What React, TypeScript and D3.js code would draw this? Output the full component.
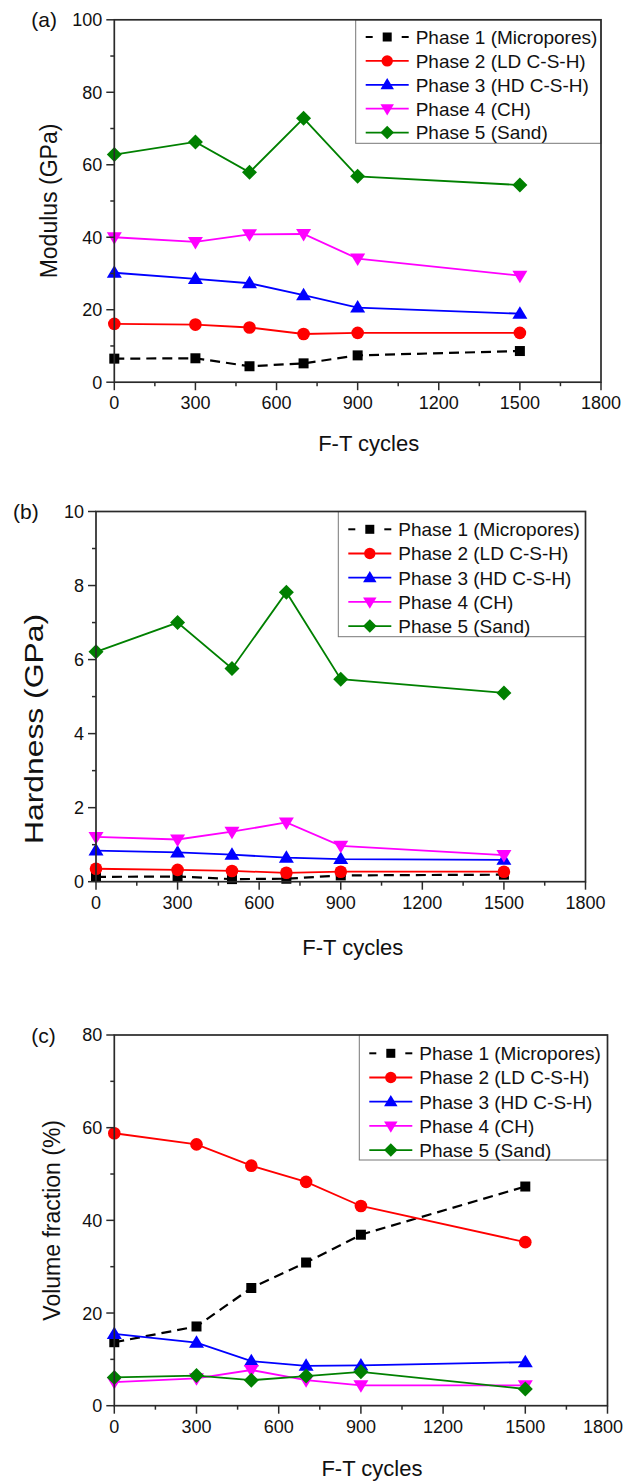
import React from "react";
import * as d3 from "d3";

const cycles = [0, 300, 500, 700, 900, 1500];
const seriesNames = [
  "Phase 1 (Micropores)",
  "Phase 2 (LD C-S-H)",
  "Phase 3 (HD C-S-H)",
  "Phase 4 (CH)",
  "Phase 5 (Sand)",
];
const seriesColors = ["#000000", "#ff0000", "#0000ff", "#ff00ff", "#008000"];
const seriesShapes = ["square", "circle", "triUp", "triDown", "diamond"];

const modulusP1 = [6.5, 6.6, 4.4, 5.2, 7.4, 8.6];
const modulusP2 = [16.1, 15.9, 15.1, 13.3, 13.6, 13.6];
const modulusP3 = [30.2, 28.5, 27.3, 24.0, 20.6, 18.9];
const modulusP4 = [40.0, 38.7, 40.8, 40.9, 34.1, 29.4];
const modulusP5 = [62.8, 66.3, 57.9, 72.8, 56.8, 54.4];

const hardnessP1 = [0.13, 0.14, 0.07, 0.08, 0.17, 0.19];
const hardnessP2 = [0.35, 0.32, 0.29, 0.24, 0.27, 0.27];
const hardnessP3 = [0.84, 0.79, 0.73, 0.65, 0.61, 0.59];
const hardnessP4 = [1.21, 1.14, 1.35, 1.6, 0.97, 0.72];
const hardnessP5 = [6.21, 7.0, 5.76, 7.82, 5.47, 5.1];

const volumeP1 = [13.7, 17.1, 25.4, 30.9, 36.9, 47.3];
const volumeP2 = [58.8, 56.4, 51.8, 48.3, 43.1, 35.3];
const volumeP3 = [15.5, 13.6, 9.6, 8.6, 8.7, 9.4];
const volumeP4 = [5.1, 5.9, 7.7, 5.5, 4.4, 4.4];
const volumeP5 = [6.1, 6.5, 5.5, 6.4, 7.3, 3.6];

const xTicks = [0, 300, 600, 900, 1200, 1500, 1800];

const FONT = "'Liberation Sans', Arial, Helvetica, sans-serif";

function Marker({ shape, x, y, color, k = 1 }: any) {
  if (shape === "square") {
    const s = 10 * k;
    return <rect x={x - s / 2} y={y - s / 2} width={s} height={s} fill={color} />;
  }
  if (shape === "circle") {
    return <circle cx={x} cy={y} r={6.3 * k} fill={color} />;
  }
  const a = 7.5 * k;
  const b = 5 * k;
  const path = d3.path();
  if (shape === "triUp") {
    path.moveTo(x, y - a);
    path.lineTo(x + a, y + b);
    path.lineTo(x - a, y + b);
    path.closePath();
  } else if (shape === "triDown") {
    path.moveTo(x, y + a);
    path.lineTo(x + a, y - b);
    path.lineTo(x - a, y - b);
    path.closePath();
  } else {
    const d = 7.5 * k;
    path.moveTo(x, y - d);
    path.lineTo(x + d, y);
    path.lineTo(x, y + d);
    path.lineTo(x - d, y);
    path.closePath();
  }
  return <path d={path.toString()} fill={color} />;
}

function Panel({
  letter,
  left,
  right,
  top,
  bottom,
  yMax,
  yMajor,
  yTitle,
  yTitleX,
  yTitleSize,
  yTitleLen,
  yTitleY,
  xTitleY,
  xTitleDx,
  series,
  legendLeft,
  legendBottom,
  legendRow0,
  legendRowStep,
}: any) {
  const x = d3.scaleLinear().domain([0, 1800]).range([left, right]);
  const y = d3.scaleLinear().domain([0, yMax]).range([bottom, top]);
  const line = d3
    .line<number>()
    .x((_, i) => x(cycles[i]))
    .y((d) => y(d));
  const yMajorTicks = d3.range(0, yMax + 1e-9, yMajor);
  const yMinorTicks = d3.range(yMajor / 2, yMax, yMajor);
  const xMinorTicks = d3.range(150, 1800, 300);
  const axisColor = "#2a2a2a";
  const cy = yTitleY !== undefined ? yTitleY : (top + bottom) / 2;
  return (
    <g>
      {series.map((vals: number[], si: number) => (
        <g key={si}>
          <path
            d={line(vals) as string}
            fill="none"
            stroke={seriesColors[si]}
            strokeWidth={si === 0 ? 2.2 : 1.8}
            strokeDasharray={si === 0 ? "10,6" : undefined}
          />
          {vals.map((v, i) => (
            <Marker key={i} shape={seriesShapes[si]} x={x(cycles[i])} y={y(v)} color={seriesColors[si]} />
          ))}
        </g>
      ))}
      <rect
        x={legendLeft}
        y={top}
        width={right - legendLeft}
        height={legendBottom - top}
        fill="white"
        stroke="#777"
        strokeWidth={1}
      />
      {seriesNames.map((name, si) => {
        const ry = legendRow0 + si * legendRowStep;
        return (
          <g key={si}>
            {si === 0 ? (
              <g>
                <line x1={legendLeft + 10} x2={legendLeft + 17} y1={ry} y2={ry} stroke="#000" strokeWidth={2} />
                <line x1={legendLeft + 46} x2={legendLeft + 53} y1={ry} y2={ry} stroke="#000" strokeWidth={2} />
              </g>
            ) : (
              <line
                x1={legendLeft + 10}
                x2={legendLeft + 53}
                y1={ry}
                y2={ry}
                stroke={seriesColors[si]}
                strokeWidth={1.8}
              />
            )}
            <Marker shape={seriesShapes[si]} x={legendLeft + 31.5} y={ry} color={seriesColors[si]} k={0.9} />
            <text x={legendLeft + 60} y={ry} dy="0.36em" fontSize={19} fontFamily={FONT} fill="#111">
              {name}
            </text>
          </g>
        );
      })}
      <rect x={left} y={top} width={right - left} height={bottom - top} fill="none" stroke={axisColor} strokeWidth={1.7} />
      {yMajorTicks.map((t: number) => (
        <g key={"ym" + t}>
          <line x1={left - 8} x2={left} y1={y(t)} y2={y(t)} stroke={axisColor} strokeWidth={1.5} />
          <text x={left - 12} y={y(t)} dy="0.36em" textAnchor="end" fontSize={18} fontFamily={FONT} fill="#111">
            {t}
          </text>
        </g>
      ))}
      {yMinorTicks.map((t: number) => (
        <line key={"yn" + t} x1={left - 4} x2={left} y1={y(t)} y2={y(t)} stroke={axisColor} strokeWidth={1.5} />
      ))}
      {xTicks.map((t) => (
        <g key={"xm" + t}>
          <line x1={x(t)} x2={x(t)} y1={bottom} y2={bottom + 8} stroke={axisColor} strokeWidth={1.5} />
          <text
            x={Math.min(x(t), 603)}
            y={bottom + 27}
            textAnchor="middle"
            fontSize={18}
            fontFamily={FONT}
            fill="#111"
          >
            {t}
          </text>
        </g>
      ))}
      {xMinorTicks.map((t: number) => (
        <line key={"xn" + t} x1={x(t)} x2={x(t)} y1={bottom} y2={bottom + 4} stroke={axisColor} strokeWidth={1.5} />
      ))}
      <text
        x={(left + right) / 2 + xTitleDx}
        y={xTitleY}
        textAnchor="middle"
        fontSize={22}
        fontFamily={FONT}
        fill="#111"
      >
        F-T cycles
      </text>
      <text
        transform={`translate(${yTitleX},${cy}) rotate(-90)`}
        textAnchor="middle"
        dy="0.36em"
        fontSize={yTitleSize}
        fontFamily={FONT}
        fill="#111"
        textLength={yTitleLen}
        lengthAdjust={yTitleLen ? "spacingAndGlyphs" : undefined}
      >
        {yTitle}
      </text>
      <text x={left - 83} y={top} dy="0.36em" fontSize={21} fontFamily={FONT} fill="#111">
        {`(${letter})`}
      </text>
    </g>
  );
}

export default function App() {
  return (
    <div style={{ position: "absolute", left: 0, top: 0 }}>
      <svg width={623} height={1482} style={{ display: "block", background: "white" }}>
        <Panel
          letter="a"
          left={114.3}
          right={601}
          top={19.8}
          bottom={382.2}
          yMax={100}
          yMajor={20}
          yTitle="Modulus (GPa)"
          yTitleX={49}
          yTitleSize={23}
          xTitleY={451}
          xTitleDx={11}
          series={[modulusP1, modulusP2, modulusP3, modulusP4, modulusP5]}
          legendLeft={355.7}
          legendBottom={143.3}
          legendRow0={37}
          legendRowStep={23.9}
        />
        <Panel
          letter="b"
          left={96}
          right={585.5}
          top={511.5}
          bottom={881.7}
          yMax={10}
          yMajor={2}
          yTitle="Hardness (GPa)"
          yTitleX={34.3}
          yTitleSize={25}
          yTitleLen={230}
          yTitleY={729}
          xTitleY={955}
          xTitleDx={12}
          series={[hardnessP1, hardnessP2, hardnessP3, hardnessP4, hardnessP5]}
          legendLeft={338.3}
          legendBottom={636.7}
          legendRow0={529.3}
          legendRowStep={24.2}
        />
        <Panel
          letter="c"
          left={114.3}
          right={607.5}
          top={1035}
          bottom={1405.7}
          yMax={80}
          yMajor={20}
          yTitle="Volume fraction (%)"
          yTitleX={51.7}
          yTitleSize={23}
          xTitleY={1476}
          xTitleDx={11}
          series={[volumeP1, volumeP2, volumeP3, volumeP4, volumeP5]}
          legendLeft={359.3}
          legendBottom={1160}
          legendRow0={1053.3}
          legendRowStep={24.2}
        />
      </svg>
    </div>
  );
}
